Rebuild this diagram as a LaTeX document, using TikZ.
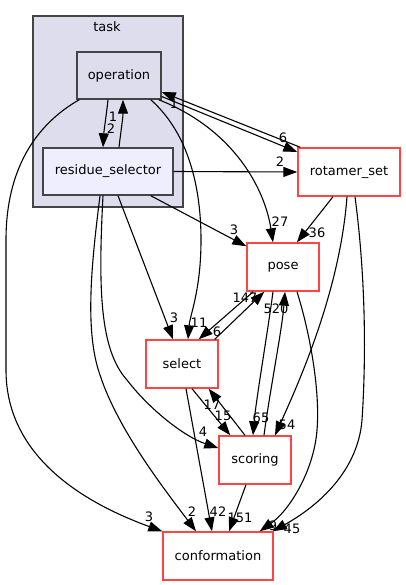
\documentclass[tikz,border=0pt]{standalone}
\usepackage{fontspec}
\setmainfont{DejaVu Sans}
\usetikzlibrary{arrows.meta,calc}
\definecolor{clfill}{HTML}{DDDDEE}
\definecolor{clborder}{HTML}{444444}
\definecolor{rsfill}{HTML}{EEEEFF}
\definecolor{extred}{HTML}{FF4444}
\begin{document}
\begin{tikzpicture}[x=1pt,y=-1pt,
  font=\fontsize{13}{15}\selectfont,
  box/.style={draw, line width=1.4pt, inner sep=0pt, minimum height=47pt, anchor=center},
  cluster/.style={draw=clborder, fill=clfill, line width=1.3pt, inner sep=0pt},
  intbox/.style={box, draw=clborder, fill=clfill},
  rsbox/.style={box, draw=clborder, fill=rsfill},
  extbox/.style={box, draw=extred, fill=white, minimum height=48pt},
  edge/.style={line width=1.1pt, -{Triangle[length=14pt,width=10pt]}},
  lbl/.style={inner sep=0pt}
]
\useasboundingbox (0,0) rectangle (406,585);
\fill[white] (0,0) rectangle (406,585);

\node[cluster, minimum width=150pt, minimum height=191pt] (taskcl) at (108,111.5) {};
\node[lbl] (tasklbl) at (107,27) {task};

\node[intbox, minimum width=84pt] (operation) at (119,75.5) {operation};
\node[rsbox, minimum width=130pt] (rs) at (108,171.5) {residue\_selector};
\node[extbox, minimum width=102pt] (rotamer) at (349,172) {rotamer\_set};
\node[extbox, minimum width=72pt] (pose) at (283,267) {pose};
\node[extbox, minimum width=72pt] (select) at (182,364) {select};
\node[extbox, minimum width=72pt] (scoring) at (255,460) {scoring};
\node[extbox, minimum width=110pt] (conformation) at (218,556) {conformation};

% edges
\draw[edge] ($(operation.south)+(-11,0)$) .. controls (106,118) and (104,130) .. ($(rs.north)+(-5,0)$);
\draw[edge] ($(rs.north)+(11,0)$) .. controls (121,130) and (123,118) .. ($(operation.south)+(4,0)$);
\draw[edge] ($(operation.south west)+(3,0)$) .. controls (35,125) and (6,170) .. (6,240) -- (6,370) .. controls (6,460) and (90,505) .. (conformation.north west);
\draw[edge] ($(operation.south east)+(-11,0)$) .. controls (185,130) and (201,180) .. (201,240) .. controls (201,290) and (190,315) .. ($(select.north)+(6,0)$);
\draw[edge] ($(rotamer.north west)+(3,0)$) -- ($(operation.east)+(0,16.5)$);
\draw[edge] ($(operation.east)+(0,21)$) -- ($(rotamer.west)+(0,-20)$);
\draw[edge] ($(operation.south east)+(-3,0)$) .. controls (235,130) and (265,190) .. ($(pose.north)+(-10,0)$);
\draw[edge] (rs.east) -- (rotamer.west);
\draw[edge] ($(rs.south east)+(-23,0)$) -- ($(pose.north west)+(0,4)$);
\draw[edge] ($(rs.south)+(10,0)$) -- ($(select.north)+(-9,0)$);
\draw[edge] ($(rs.south)+(-5,0)$) .. controls (98,290) and (100,350) .. (127,380) .. controls (150,410) and (185,437) .. ($(scoring.west)+(0,-12)$);
\draw[edge] ($(rs.south)+(-8,0)$) .. controls (92,260) and (84,330) .. (100,375) .. controls (118,430) and (165,490) .. ($(conformation.north)+(-22,0)$);
\draw[edge] ($(rotamer.south)+(-16,0)$) -- ($(pose.north)+(14,0)$);
\draw[edge] ($(rotamer.south)+(-2,0)$) .. controls (340,290) and (300,380) .. ($(scoring.north)+(20,0)$);
\draw[edge] ($(rotamer.south)+(6,0)$) .. controls (366,280) and (366,360) .. (362,420) .. controls (358,470) and (320,505) .. ($(conformation.north east)+(-1,0)$);
\draw[edge] ($(pose.south)+(14,0)$) .. controls (312,340) and (320,395) .. (317,430) .. controls (314,470) and (290,510) .. ($(conformation.north east)+(-14,0)$);
\draw[edge] ($(pose.south)+(-10,0)$) .. controls (268,330) and (256,400) .. ($(scoring.north)+(-2,0)$);
\draw[edge] ($(scoring.north)+(9,0)$) .. controls (270,390) and (282,330) .. ($(pose.south)+(2,0)$);
\draw[edge] ($(select.north east)+(-4,0)$) -- ($(pose.south west)+(18,0)$);
\draw[edge] ($(pose.south west)+(7,0)$) -- ($(select.north east)+(-20,0)$);
\draw[edge] ($(select.south)+(4,0)$) -- ($(conformation.north)+(-6,0)$);
\draw[edge] ($(select.south)+(10,0)$) -- ($(scoring.north west)+(12,0)$);
\draw[edge] ($(scoring.north)+(-10,0)$) -- ($(select.south east)+(-10,0)$);
\draw[edge] ($(scoring.south)+(-9,0)$) -- ($(conformation.north)+(11,0)$);

% labels
\node[lbl] (l1) at (111,129) {2};
\node[lbl] (l2) at (113,117) {1};
\node[lbl] (l3) at (149,517) {3};
\node[lbl] (l4) at (199,323) {11};
\node[lbl] (l5) at (174,104) {1};
\node[lbl] (l6) at (283,138) {6};
\node[lbl] (l7) at (280,222) {27};
\node[lbl] (l8) at (280,162) {2};
\node[lbl] (l9) at (234,230) {3};
\node[lbl] (l10) at (174,318) {3};
\node[lbl] (l11) at (203,432) {4};
\node[lbl] (l12) at (192,512) {2};
\node[lbl] (l13) at (317,233) {36};
\node[lbl] (l14) at (287,425) {54};
\node[lbl] (l15) at (292,529) {45};
\node[lbl] (l16) at (273,526) {9};
\node[lbl] (l17) at (261,418) {65};
\node[lbl] (l18) at (276,309) {520};
\node[lbl] (l19) at (245,298) {147};
\node[lbl] (l20) at (217,332) {6};
\node[lbl] (l21) at (218,512) {42};
\node[lbl] (l22) at (223,416) {15};
\node[lbl] (l23) at (212,405) {17};
\node[lbl] (l24) at (240,518) {151};
\end{tikzpicture}
\end{document}
